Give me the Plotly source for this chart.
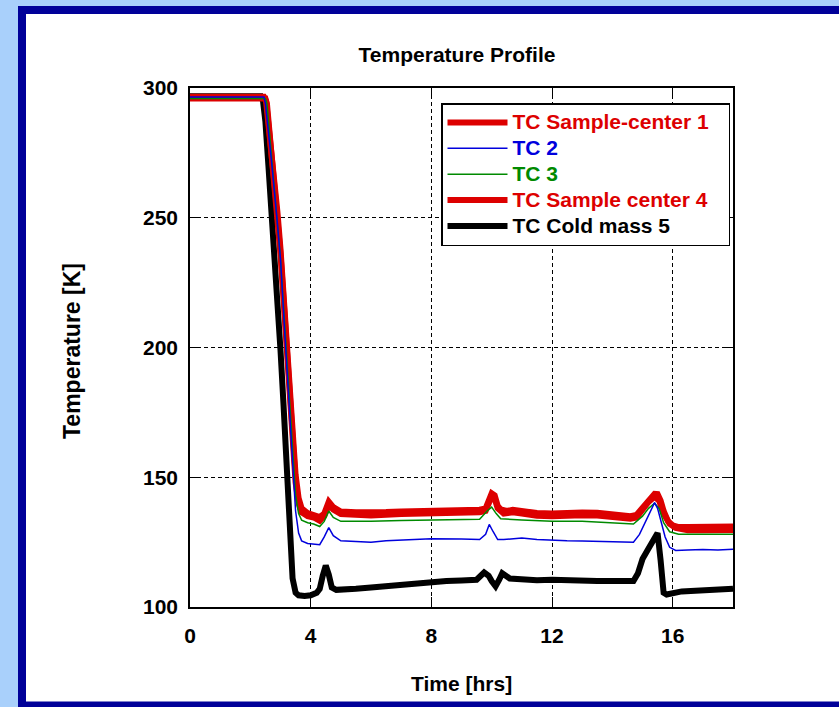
import plotly.graph_objects as go

# ---------------- data ----------------
t_red1 = [0, 1, 2, 2.45, 2.52, 2.6, 2.7, 2.8, 2.9, 3.0, 3.1, 3.2, 3.3, 3.4, 3.5, 3.6, 3.7, 3.9, 4.1, 4.3,
          4.45, 4.6, 4.75, 5.0, 5.5, 6, 6.5, 7, 7.5, 8, 8.5, 9, 9.6, 9.8, 9.9, 10.0, 10.1, 10.2, 10.3,
          10.5, 10.7, 11, 11.5, 12, 12.5, 13, 13.5, 14, 14.6, 14.8, 15.0, 15.2, 15.4, 15.5, 15.6, 15.7,
          15.85, 16.0, 16.2, 16.5, 17, 17.5, 18]
v_red1 = [296.6, 296.6, 296.6, 296.6, 295, 287, 277, 264, 252, 238, 221, 203, 186, 166, 151, 142, 138, 136.2, 135.6, 134.6,
          136, 140.6, 138.5, 136.8, 136.5, 136.3, 136.6, 136.8, 136.9, 137, 137.1, 137.3, 137.5, 138, 141, 143.8, 143, 139, 137.6,
          137, 137.5, 137, 136.2, 136, 136.3, 136.4, 136.3, 135.8, 135, 135.5, 138.5, 141.5, 143.6, 143.5, 141, 137,
          133, 131.5, 130.8, 130.8, 130.8, 131.1, 131]

t_tc2 = [0, 1, 2, 2.45, 2.5, 2.6, 2.7, 2.88, 3.0, 3.15, 3.3, 3.4, 3.5, 3.6, 3.7, 3.9, 4.1, 4.3, 4.45, 4.6,
         4.75, 5.0, 5.5, 6, 6.5, 7, 8, 9, 9.6, 9.8, 9.92, 10.05, 10.2, 10.4, 11, 11.5, 12, 12.5, 13, 13.5,
         14, 14.7, 14.9, 15.1, 15.3, 15.4, 15.5, 15.62, 15.75, 15.9, 16.1, 16.5, 17, 17.5, 18]
v_tc2 = [296.5, 296.5, 296.5, 296.5, 294, 284, 272, 250, 234, 204, 174, 153, 137, 128.5, 125.5, 124.5, 124.2, 124, 127, 130.6,
         127.5, 125.5, 125.2, 125, 125.5, 125.8, 126.3, 126.2, 126, 128, 131.8, 129, 126, 126, 126.6, 126, 125.7, 125.5, 125.4, 125.3,
         125.2, 125, 128, 133, 138, 140.2, 138, 133, 127, 123, 121.8, 122, 122.2, 122, 122.3]

t_tc3 = [0, 1, 2, 2.5, 2.55, 2.7, 2.9, 3.0, 3.1, 3.2, 3.3, 3.4, 3.5, 3.6, 3.7, 3.9, 4.1, 4.3, 4.45, 4.6,
         4.75, 5.0, 6, 7, 8, 9, 9.6, 9.85, 10.0, 10.15, 10.3, 11, 12, 13, 14, 14.7, 15.0, 15.2, 15.4, 15.55,
         15.7, 15.9, 16.2, 17, 18]
v_tc3 = [296, 296, 296, 296, 294, 274, 248, 234, 216, 197, 178, 158, 143, 136, 133.5, 132.5, 132, 131, 133, 137,
         134.5, 133, 133, 133.3, 133.5, 133.6, 133.8, 137, 138.5, 136, 134, 133.5, 133, 133, 132.5, 132, 135, 138, 140, 138,
         132.5, 129, 128, 128, 128]

t_red4 = [0, 1, 2, 2.5, 2.55, 2.7, 2.9, 3.0, 3.1, 3.2, 3.3, 3.4, 3.5, 3.6, 3.7, 3.9, 4.1, 4.3, 4.45, 4.6,
          4.75, 5.0, 5.5, 6, 7, 8, 9, 9.6, 9.8, 9.9, 10.0, 10.1, 10.2, 10.4, 10.7, 11, 11.5, 12, 12.5, 13,
          13.5, 14, 14.6, 14.8, 15.0, 15.2, 15.4, 15.55, 15.7, 15.9, 16.1, 16.5, 17, 17.5, 18]
v_red4 = [296.0, 296.0, 296.0, 296.0, 294, 276, 250, 236, 219, 200, 183, 163, 148, 140, 136.5, 135, 134.5, 133.2, 135, 139.4,
          137.5, 135.8, 135.5, 135.3, 135.8, 136, 136.3, 136.5, 137, 140, 142.6, 141.8, 138, 136, 136.5, 136, 135.2, 135, 135.3, 135.4,
          135.3, 134.8, 134, 134.5, 137.5, 140.5, 142.5, 141, 136, 132, 130.5, 129.6, 129.6, 129.8, 129.7]

t_cold5 = [0, 1, 2, 2.35, 2.42, 2.5, 2.6, 2.72, 2.85, 3.0, 3.1, 3.2, 3.3, 3.4, 3.5, 3.6, 3.8, 4.0, 4.2, 4.3,
           4.4, 4.5, 4.6, 4.7, 4.85, 5.0, 5.5, 6, 6.5, 7, 7.5, 8, 8.5, 9, 9.5, 9.75, 9.9, 10.0, 10.13, 10.25,
           10.35, 10.6, 11, 11.5, 12, 12.5, 13, 13.5, 14, 14.7, 14.85, 15.0, 15.2, 15.4, 15.5, 15.6, 15.7, 15.8, 16.0, 16.3,
           16.6, 17, 17.5, 18]
v_cold5 = [296.8, 296.8, 296.8, 296.8, 295, 287, 270, 250, 228, 199, 178, 152, 130, 111, 105.5, 104.5, 104.2, 104.5, 105.5, 107,
           112, 116, 112.5, 107.5, 106.6, 106.8, 107, 107.5, 108, 108.8, 109.2, 109.8, 110, 110.2, 110.5, 113.3, 112, 110, 108, 110.5,
           113, 111, 110.5, 110.3, 110.5, 110.2, 110.3, 110, 110, 110, 113, 118.5, 122.5, 126.5, 128.5, 118, 105.5, 104.8, 105.5, 106,
           106.2, 106.5, 106.8, 107]

names = ["TC Sample-center 1", "TC 2", "TC 3", "TC Sample center 4", "TC Cold mass 5"]
colors = ["#dd0000", "#0000dd", "#008a00", "#dd0000", "#000000"]
widths = [6, 1.5, 1.5, 6, 6]
x_ticks = [0, 4, 8, 12, 16]
y_ticks = [100, 150, 200, 250, 300]

series = [(t_red1, v_red1), (t_tc2, v_tc2), (t_tc3, v_tc3), (t_red4, v_red4), (t_cold5, v_cold5)]

# ---------------- figure ----------------
W, H = 839, 707
PL, PR, PT, PB = 190, 733, 88, 607   # plot area in pixels


def px(xp):
    return (xp - PL) / (PR - PL)


def py(yp):
    return (PB - yp) / (PB - PT)


FONT = "Liberation Sans, Arial, Helvetica, sans-serif"

fig = go.Figure()
draw_order = [4, 3, 0, 2, 1]
for i in draw_order:
    t, v = series[i]
    label = '<span style="color:%s;font-size:21px">%s</span>' % (colors[i], names[i])
    if i == 0:
        label += "&nbsp;&nbsp;&nbsp;"
    fig.add_trace(go.Scatter(
        x=t, y=v, mode="lines",
        name=label,
        line=dict(color=colors[i], width=widths[i]),
        legendrank=i + 1,
    ))

axis_common = dict(
    showline=True, linecolor="black", linewidth=1.5, mirror="ticks",
    ticks="inside", ticklen=10, tickcolor="black", tickwidth=1,
    showgrid=True, gridcolor="black", gridwidth=1, griddash="4px,3px",
    zeroline=False,
    tickfont=dict(family=FONT, size=21, color="black", weight="bold"),
)

fig.update_layout(
    width=W, height=H,
    margin=dict(l=PL, r=W - PR, t=PT, b=H - PB),
    paper_bgcolor="#a9d0fb",
    plot_bgcolor="white",
    xaxis=dict(range=[0, 18], tickvals=x_ticks, ticklabelstandoff=9, **axis_common),
    yaxis=dict(range=[100, 300], tickvals=y_ticks, ticklabelstandoff=6, **axis_common),
    title=dict(text="<b>Temperature Profile</b>", x=457 / W, xanchor="center",
               y=1 - 55 / H, yanchor="middle", yref="container",
               font=dict(family=FONT, size=21, color="black")),
    legend=dict(
        x=px(441), y=py(103), xanchor="left", yanchor="top",
        bgcolor="white", bordercolor="black", borderwidth=1.5,
        font=dict(family=FONT, size=17.6, weight="bold"),
        itemwidth=60, tracegroupgap=0,
    ),
    showlegend=True,
    shapes=[
        dict(type="rect", xref="paper", yref="paper", layer="below",
             x0=px(18), x1=px(850), y0=py(720), y1=py(6),
             fillcolor="#000099", line=dict(width=0)),
        dict(type="rect", xref="paper", yref="paper", layer="below",
             x0=px(26), x1=px(850), y0=py(701.5), y1=py(14),
             fillcolor="white", line=dict(width=0)),
    ],
    annotations=[
        dict(text="<b>Time [hrs]</b>", xref="paper", yref="paper",
             x=px(461), y=py(683), xanchor="center", yanchor="middle", showarrow=False,
             font=dict(family=FONT, size=21, color="black")),
        dict(text="<b>Temperature [K]</b>", xref="paper", yref="paper",
             x=px(72), y=py(351), xanchor="center", yanchor="middle", showarrow=False,
             textangle=-90, font=dict(family=FONT, size=23, color="black")),
    ],
)

fig.write_html("out.html")
